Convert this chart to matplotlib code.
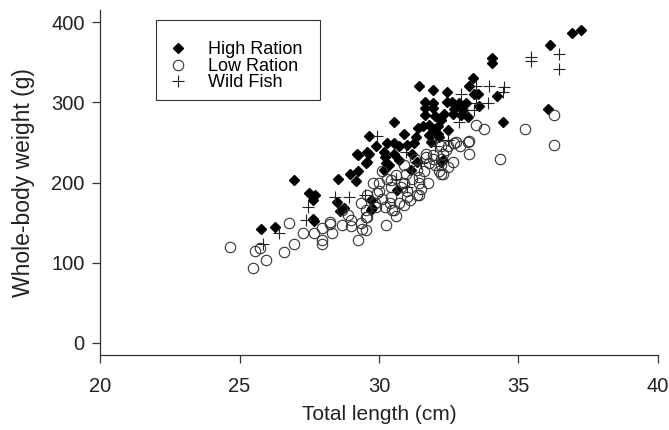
import numpy as np
import matplotlib.pyplot as plt
from matplotlib.patches import Rectangle

plt.rcParams['font.family'] = ['Liberation Sans', 'DejaVu Sans']

# High Ration (filled diamonds)
high_len = [25.77, 26.28, 27.66, 26.97, 27.48, 27.70, 27.63, 27.64, 28.54, 28.96,
            29.26, 29.16, 29.24, 29.52, 28.50, 28.74, 29.58, 30.24, 30.54, 31.20,
            30.72, 31.14, 30.66, 29.70, 29.70, 31.44, 31.94, 31.64, 31.94, 31.64,
            31.94, 31.64, 30.54, 29.64, 31.80, 31.98, 31.80, 31.86, 31.32, 31.26,
            31.02, 30.72, 30.54, 30.30, 30.18, 29.58, 34.04, 33.36, 33.24, 33.54,
            34.23, 32.43, 32.43, 32.88, 33.12, 32.70, 33.00, 32.34, 32.64, 32.94,
            33.18, 32.22, 32.10, 32.46, 34.43, 36.93, 37.23, 36.14, 36.05, 29.22,
            29.64, 30.36, 30.18, 31.38, 31.56, 32.10, 32.16, 32.28, 32.22, 28.62,
            29.76, 34.04, 30.90, 32.60, 33.40, 32.00, 31.40, 30.20, 29.90, 33.60]
high_wt = [142, 144, 152, 203, 187, 184, 178, 155, 204, 211,
           215, 202, 235, 224, 176, 168, 226, 224, 236, 236,
           228, 216, 191, 178, 166, 321, 315, 301, 299, 293,
           293, 284, 276, 258, 272, 265, 259, 251, 257, 249,
           247, 245, 249, 249, 238, 238, 349, 330, 321, 311,
           308, 313, 301, 299, 299, 292, 290, 286, 286, 284,
           282, 278, 270, 265, 275, 387, 390, 372, 292, 236,
           236, 222, 216, 226, 270, 261, 257, 228, 226, 164,
           168, 355, 260, 300, 310, 283, 268, 232, 245, 296]

# Low Ration (open circles)
low_len = [24.66, 25.56, 25.74, 25.96, 25.48, 26.58, 26.96, 27.27, 27.66, 27.96,
           27.96, 27.96, 28.32, 28.26, 28.68, 28.98, 29.25, 29.40, 29.34, 26.76,
           28.26, 28.68, 29.34, 29.52, 29.58, 31.68, 31.92, 32.16, 31.38, 31.44,
           31.44, 31.44, 30.96, 30.90, 30.42, 30.42, 30.42, 30.48, 30.00, 29.94,
           29.58, 29.52, 30.24, 31.02, 33.48, 33.78, 32.76, 33.18, 32.46, 35.25,
           34.34, 33.24, 33.24, 36.26, 36.26, 31.68, 31.92, 32.28, 32.22, 32.28,
           32.22, 32.70, 32.22, 32.64, 32.22, 32.46, 30.54, 31.38, 29.85, 30.00,
           30.70, 31.00, 30.60, 30.20, 31.20, 30.10, 29.80, 28.90, 30.60, 30.90,
           31.60, 31.75, 32.00, 28.98, 29.52, 30.30, 30.80, 31.10, 30.40, 31.50,
           30.90, 31.30, 30.10, 29.90, 31.80, 32.40, 32.90]
low_wt = [120, 115, 119, 104, 93, 113, 123, 137, 137, 143,
          128, 124, 137, 148, 147, 146, 128, 142, 149, 149,
          151, 166, 174, 166, 184, 232, 230, 214, 216, 207,
          199, 184, 211, 199, 203, 195, 182, 166, 199, 187,
          157, 141, 147, 182, 272, 267, 251, 251, 245, 267,
          229, 252, 236, 284, 247, 236, 234, 236, 222, 211,
          245, 249, 230, 226, 211, 220, 166, 184, 174, 190,
          175, 190, 210, 170, 205, 215, 200, 160, 158, 172,
          215, 200, 222, 153, 157, 205, 195, 178, 175, 192,
          222, 230, 180, 170, 225, 240, 245]

# Wild Fish (plus signs)
wild_len = [25.86, 26.40, 27.38, 27.46, 28.44, 28.92, 29.50, 29.94, 30.96, 31.92,
            32.46, 32.88, 32.94, 33.48, 33.96, 34.49, 34.44, 33.48, 33.90, 33.42,
            35.46, 35.46, 36.45, 36.45, 31.00, 30.60, 31.50, 32.00]
wild_wt = [124, 137, 153, 170, 182, 182, 184, 258, 238, 253,
           253, 276, 311, 321, 321, 319, 313, 299, 299, 290,
           357, 351, 360, 342, 195, 205, 225, 245]

fig = plt.figure(figsize=(6.69, 4.30), dpi=100)
ax = fig.add_axes([0.1495, 0.1744, 0.834, 0.802])

ax.plot(high_len, high_wt, 'D', color='black', markersize=5, linestyle='none', label='High Ration')
ax.plot(low_len, low_wt, 'o', markerfacecolor='none', markeredgecolor='#333333', markeredgewidth=0.8,
        markersize=7.5, linestyle='none', label='Low Ration')
ax.plot(wild_len, wild_wt, '+', color='#222222', markeredgewidth=0.8, markersize=8,
        linestyle='none', label='Wild Fish')

ax.set_xlim(20, 40)
ax.set_ylim(-15, 415)
ax.set_xticks([20, 25, 30, 35, 40])
ax.set_yticks([0, 100, 200, 300, 400])
for s in ['top', 'right']:
    ax.spines[s].set_visible(False)
for s in ['left', 'bottom']:
    ax.spines[s].set_linewidth(0.9)
    ax.spines[s].set_color('#333333')
ax.tick_params(direction='out', length=6, width=0.9, color='#333333', labelsize=14.5, labelcolor='#222222')
ax.tick_params(axis='y', pad=5)
ax.tick_params(axis='x', pad=10)

ax.set_xlabel('Total length (cm)', fontsize=15, color='#222222', labelpad=6)
ax.set_ylabel('Whole-body weight (g)', fontsize=16.5, color='#222222', labelpad=12)

# legend box drawn separately, entries placed inside it
ax.add_patch(Rectangle((0.1004, 0.739), 0.2936, 0.232, transform=ax.transAxes,
                       facecolor='white', edgecolor='#333333', linewidth=0.8, zorder=4))
leg = ax.legend(loc='upper left', bbox_to_anchor=(0.1237, 0.910), borderaxespad=0,
                fontsize=13, labelspacing=-0.02, handletextpad=1.15, handlelength=1.0,
                frameon=False, borderpad=0)
leg.set_zorder(5)

fig.savefig('out.png', dpi=100)
